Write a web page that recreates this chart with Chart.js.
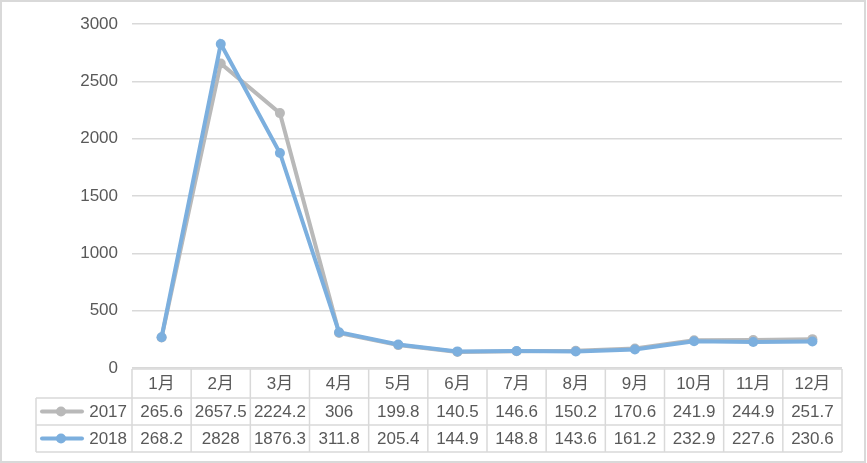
<!DOCTYPE html>
<html>
<head>
<meta charset="utf-8">
<script src="https://cdn.jsdelivr.net/npm/chart.js@4/dist/chart.umd.min.js"></script>
<style>
  html, body { margin: 0; padding: 0; background: #fff; }
  #wrap { width: 867px; height: 463px; }
</style>
</head>
<body>
<div id="wrap"><canvas id="lineChart" width="867" height="463"></canvas></div>
<script>
// data
const months = ['1月', '2月', '3月', '4月', '5月', '6月', '7月', '8月', '9月', '10月', '11月', '12月'];
const seriesNames = ['2017', '2018'];
const values2017 = [265.6, 2657.5, 2224.2, 306, 199.8, 140.5, 146.6, 150.2, 170.6, 241.9, 244.9, 251.7];
const values2018 = [268.2, 2828, 1876.3, 311.8, 205.4, 144.9, 148.8, 143.6, 161.2, 232.9, 227.6, 230.6];
const yMin = 0, yMax = 3000, yStep = 500;

const gray = '#b9b9b9';
const blue = '#7cafde';
const textColor = '#595959';
const gridColor = '#d9d9d9';
const fontFamily = '"Liberation Sans", "Noto Sans CJK SC", sans-serif';

// draws the data table under the plot + the outer frame
const dataTable = {
  id: 'dataTable',
  afterDraw(chart) {
    const ctx = chart.ctx;
    const x = chart.scales.x;
    const area = chart.chartArea;
    const step = x.getPixelForValue(1) - x.getPixelForValue(0);
    const left = x.getPixelForValue(0) - step / 2;
    const right = x.getPixelForValue(months.length - 1) + step / 2;
    const legendLeft = 36;
    const rowTop = [area.bottom + 1, area.bottom + 30, area.bottom + 57, area.bottom + 84];

    ctx.save();
    ctx.strokeStyle = gridColor;
    ctx.lineWidth = 1.5;
    // horizontal lines
    ctx.beginPath();
    ctx.moveTo(left, rowTop[0]); ctx.lineTo(right, rowTop[0]);
    for (let r = 1; r < rowTop.length; r++) {
      ctx.moveTo(legendLeft, rowTop[r]); ctx.lineTo(right, rowTop[r]);
    }
    // vertical lines
    ctx.moveTo(legendLeft, rowTop[1]); ctx.lineTo(legendLeft, rowTop[3]);
    for (let i = 0; i <= months.length; i++) {
      const px = left + i * step;
      ctx.moveTo(px, rowTop[0]); ctx.lineTo(px, rowTop[3]);
    }
    ctx.stroke();

    ctx.fillStyle = textColor;
    ctx.font = '17px ' + fontFamily;
    ctx.textAlign = 'center';
    ctx.textBaseline = 'middle';
    const rows = [months, values2017.map(String), values2018.map(String)];
    rows.forEach((row, r) => {
      const cy = (rowTop[r] + rowTop[r + 1]) / 2 + 1;
      row.forEach((txt, i) => ctx.fillText(txt, x.getPixelForValue(i), cy));
    });

    // legend keys
    [gray, blue].forEach((c, k) => {
      const cy = (rowTop[k + 1] + rowTop[k + 2]) / 2;
      ctx.strokeStyle = c;
      ctx.lineWidth = 4;
      ctx.lineCap = 'round';
      ctx.beginPath();
      ctx.moveTo(42, cy); ctx.lineTo(82, cy);
      ctx.stroke();
      ctx.fillStyle = c;
      ctx.beginPath();
      ctx.arc(61, cy, 5, 0, Math.PI * 2);
      ctx.fill();
      ctx.fillStyle = textColor;
      ctx.textAlign = 'right';
      ctx.fillText(seriesNames[k], 127, cy + 1);
    });

    // outer frame
    ctx.strokeStyle = gridColor;
    ctx.lineWidth = 2;
    ctx.strokeRect(1, 1, 864, 461);
    ctx.restore();
  }
};

new Chart(document.getElementById('lineChart'), {
  type: 'line',
  data: {
    labels: months,
    datasets: [
      { label: seriesNames[0], data: values2017, borderColor: gray, backgroundColor: gray,
        borderWidth: 4, pointRadius: 5, pointBorderWidth: 0, order: 1 },
      { label: seriesNames[1], data: values2018, borderColor: blue, backgroundColor: blue,
        borderWidth: 4, pointRadius: 5, pointBorderWidth: 0, order: 0 }
    ]
  },
  options: {
    responsive: false,
    animation: false,
    layout: { padding: { top: 24, right: 25, bottom: 95, left: 0 } },
    plugins: { legend: { display: false }, tooltip: { enabled: false } },
    scales: {
      x: { display: false, offset: true },
      y: {
        min: yMin, max: yMax,
        ticks: { stepSize: yStep, color: textColor, padding: 14, font: { size: 17, family: fontFamily },
          callback: v => String(v) },
        grid: { color: gridColor, lineWidth: 1.5, drawTicks: false },
        border: { display: false },
        afterFit(scale) { scale.width = 132; }
      }
    }
  },
  plugins: [dataTable]
});
</script>
</body>
</html>
